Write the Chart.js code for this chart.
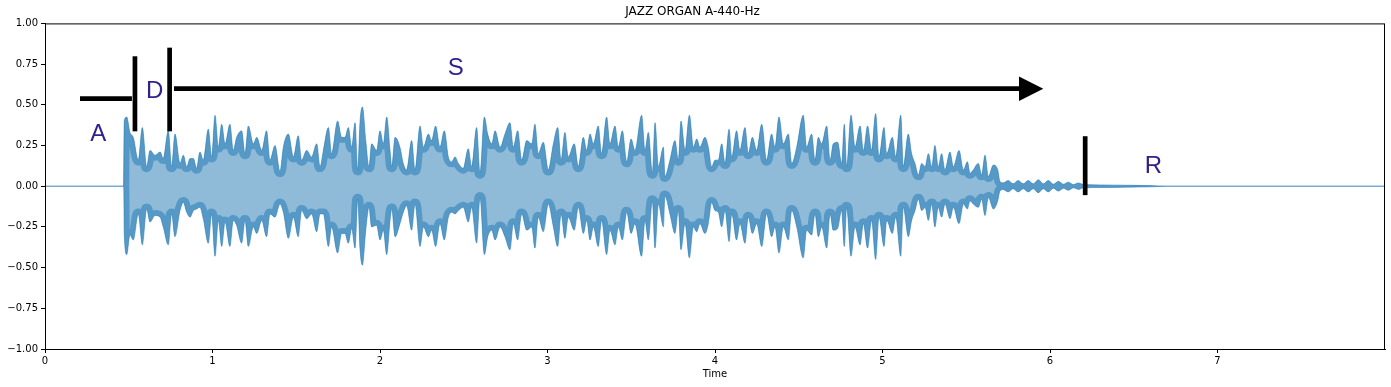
<!DOCTYPE html>
<html>
<head>
<meta charset="utf-8">
<title>JAZZ ORGAN A-440-Hz</title>
<script src="https://cdn.jsdelivr.net/npm/chart.js@4.4.1/dist/chart.umd.min.js"></script>
<style>
  html, body { margin: 0; padding: 0; background: #fff; }
  #wrap { width: 1391px; height: 387px; }
</style>
</head>
<body>
<div id="wrap"><canvas id="waveChart"></canvas></div>
<script>
// outer envelope of the waveform (seconds, amplitude)
const waveTimes = [
  0, 0.470, 0.473, 0.488, 0.507, 0.527, 0.557, 0.581, 0.607, 0.627, 0.657, 0.687, 0.706, 0.736, 0.756, 0.776,
  0.806, 0.826, 0.846, 0.866, 0.886, 0.905, 0.925, 0.945, 0.975, 0.995, 1.015, 1.035, 1.055, 1.075, 1.104, 1.124,
  1.144, 1.174, 1.194, 1.214, 1.244, 1.264, 1.294, 1.323, 1.343, 1.373, 1.403, 1.423, 1.453, 1.483, 1.512, 1.532,
  1.562, 1.592, 1.622, 1.642, 1.662, 1.692, 1.711, 1.747, 1.771,
  1.791, 1.811, 1.831, 1.851, 1.867, 1.881, 1.895, 1.915, 1.934, 1.950, 1.980, 2.000, 2.020, 2.040, 2.060, 2.070,
  2.090, 2.119, 2.139, 2.159, 2.189, 2.209, 2.239, 2.259, 2.289, 2.308, 2.332, 2.358, 2.384, 2.408, 2.428, 2.448,
  2.468, 2.497, 2.527, 2.547, 2.577, 2.597, 2.623, 2.643, 2.667, 2.687, 2.717, 2.746, 2.776, 2.796, 2.822, 2.846,
  2.876, 2.906, 2.925, 2.945, 2.975, 3.005, 3.035, 3.061, 3.081, 3.104, 3.124, 3.160, 3.184,
  3.214, 3.234, 3.254, 3.274, 3.303, 3.323, 3.353, 3.373, 3.403, 3.423, 3.447, 3.473, 3.499, 3.522, 3.562, 3.582,
  3.602, 3.626, 3.642, 3.662, 3.692, 3.701, 3.731, 3.761, 3.781, 3.797, 3.821, 3.847, 3.871, 3.891, 3.910, 3.940,
  3.960, 3.980, 4.000, 4.020, 4.040, 4.060, 4.084, 4.100, 4.129, 4.149, 4.179, 4.199, 4.223, 4.249, 4.279, 4.308,
  4.338, 4.358, 4.382, 4.408, 4.438, 4.458, 4.488, 4.527, 4.547,
  4.577, 4.597, 4.617, 4.637, 4.667, 4.687, 4.706, 4.732, 4.756, 4.772, 4.786, 4.812, 4.836, 4.866, 4.886, 4.911,
  4.935, 4.959, 4.979, 5.009, 5.025, 5.059, 5.079, 5.109, 5.124, 5.154, 5.174, 5.194, 5.214, 5.234, 5.254, 5.274,
  5.294, 5.313, 5.333, 5.353, 5.373, 5.403, 5.423, 5.457, 5.483, 5.507, 5.522, 5.542, 5.572, 5.592, 5.612, 5.632,
  5.662, 5.688, 5.701,
  5.72, 5.75, 5.78, 5.81, 5.84, 5.87, 5.90, 5.93, 5.96, 5.99, 6.02, 6.05, 6.08, 6.11, 6.14, 6.17, 6.20, 6.30, 6.45,
  6.60, 6.70, 8.00
];
const waveUpper = [
  0, 0, 0.40, 0.425, 0.33, 0.30, 0.16, 0.36, 0.12, 0.22, 0.19, 0.21, 0.17, 0.34, 0.12, 0.32,
  0.14, 0.19, 0.12, 0.17, 0.17, 0.11, 0.21, 0.16, 0.35, 0.18, 0.435, 0.24, 0.38, 0.26, 0.38, 0.22,
  0.30, 0.34, 0.20, 0.37, 0.26, 0.30, 0.22, 0.34, 0.16, 0.25, 0.09, 0.24, 0.32, 0.18, 0.31, 0.16,
  0.22, 0.18, 0.26, 0.12, 0.22, 0.36, 0.20, 0.40, 0.30,
  0.30, 0.36, 0.24, 0.39, 0.10, 0.40, 0.487, 0.28, 0.12, 0.26, 0.22, 0.34, 0.26, 0.425, 0.22, 0.12,
  0.30, 0.24, 0.14, 0.10, 0.28, 0.10, 0.37, 0.24, 0.32, 0.28, 0.37, 0.24, 0.34, 0.18, 0.15, 0.18,
  0.14, 0.11, 0.23, 0.12, 0.36, 0.08, 0.425, 0.32, 0.26, 0.34, 0.24, 0.32, 0.39, 0.24, 0.34, 0.16,
  0.28, 0.26, 0.38, 0.20, 0.27, 0.10, 0.26, 0.36, 0.16, 0.33, 0.18, 0.26, 0.12,
  0.30, 0.22, 0.32, 0.26, 0.37, 0.20, 0.425, 0.26, 0.37, 0.24, 0.34, 0.15, 0.29, 0.22, 0.436, 0.22,
  0.33, 0.08, 0.39, 0.12, 0.24, 0.06, 0.16, 0.28, 0.16, 0.40, 0.22, 0.436, 0.24, 0.29, 0.24, 0.30,
  0.24, 0.12, 0.16, 0.16, 0.26, 0.14, 0.35, 0.18, 0.34, 0.22, 0.36, 0.20, 0.30, 0.22, 0.38, 0.16,
  0.32, 0.24, 0.425, 0.26, 0.32, 0.14, 0.24, 0.436, 0.24,
  0.32, 0.16, 0.30, 0.26, 0.37, 0.16, 0.26, 0.27, 0.14, 0.38, 0.12, 0.436, 0.24, 0.37, 0.22, 0.37,
  0.22, 0.446, 0.18, 0.36, 0.20, 0.30, 0.18, 0.436, 0.12, 0.32, 0.20, 0.14, 0.07, 0.14, 0.12, 0.20,
  0.12, 0.25, 0.12, 0.20, 0.10, 0.21, 0.12, 0.22, 0.10, 0.15, 0.08, 0.10, 0.14, 0.07, 0.19, 0.06,
  0.13, 0.10, 0.03,
  0.02, 0.035, 0.015, 0.035, 0.015, 0.035, 0.015, 0.04, 0.015, 0.035, 0.012, 0.03, 0.012, 0.025, 0.01, 0.02, 0.01, 0.008, 0.006,
  0.004, 0, 0
];
const waveLower = [
  0, 0, -0.29, -0.42, -0.30, -0.33, -0.17, -0.36, -0.14, -0.22, -0.18, -0.19, -0.25, -0.36, -0.17, -0.31,
  -0.15, -0.10, -0.16, -0.19, -0.15, -0.14, -0.13, -0.20, -0.35, -0.17, -0.43, -0.21, -0.37, -0.22, -0.37, -0.21,
  -0.24, -0.35, -0.21, -0.37, -0.25, -0.29, -0.21, -0.31, -0.17, -0.19, -0.11, -0.16, -0.32, -0.19, -0.31, -0.15,
  -0.20, -0.17, -0.28, -0.17, -0.17, -0.37, -0.25, -0.41, -0.29,
  -0.29, -0.35, -0.26, -0.38, -0.08, -0.39, -0.485, -0.27, -0.13, -0.25, -0.24, -0.33, -0.27, -0.42, -0.21, -0.14,
  -0.31, -0.23, -0.16, -0.12, -0.27, -0.11, -0.37, -0.25, -0.31, -0.27, -0.37, -0.23, -0.33, -0.19, -0.16, -0.17,
  -0.15, -0.13, -0.22, -0.13, -0.35, -0.07, -0.42, -0.31, -0.27, -0.33, -0.25, -0.31, -0.39, -0.23, -0.33, -0.17,
  -0.27, -0.25, -0.38, -0.19, -0.28, -0.11, -0.25, -0.37, -0.17, -0.32, -0.19, -0.27, -0.13,
  -0.29, -0.21, -0.33, -0.25, -0.37, -0.21, -0.42, -0.27, -0.36, -0.25, -0.33, -0.16, -0.29, -0.23, -0.43, -0.21,
  -0.33, -0.09, -0.38, -0.11, -0.25, -0.06, -0.17, -0.29, -0.15, -0.39, -0.23, -0.44, -0.25, -0.28, -0.23, -0.29,
  -0.23, -0.10, -0.15, -0.16, -0.25, -0.15, -0.34, -0.17, -0.33, -0.23, -0.35, -0.19, -0.29, -0.23, -0.37, -0.17,
  -0.31, -0.25, -0.41, -0.25, -0.33, -0.15, -0.25, -0.44, -0.27,
  -0.30, -0.17, -0.31, -0.25, -0.38, -0.17, -0.27, -0.26, -0.15, -0.37, -0.13, -0.43, -0.25, -0.36, -0.23, -0.38,
  -0.21, -0.45, -0.19, -0.37, -0.21, -0.29, -0.19, -0.43, -0.13, -0.31, -0.21, -0.15, -0.08, -0.15, -0.13, -0.21,
  -0.11, -0.25, -0.13, -0.19, -0.11, -0.20, -0.13, -0.23, -0.11, -0.14, -0.09, -0.11, -0.13, -0.08, -0.18, -0.07,
  -0.14, -0.09, -0.03,
  -0.02, -0.035, -0.015, -0.035, -0.015, -0.035, -0.015, -0.04, -0.015, -0.035, -0.012, -0.03, -0.012, -0.025, -0.01, -0.02, -0.01, -0.008, -0.006,
  -0.004, 0, 0
];

const xTicks = [0, 1, 2, 3, 4, 5, 6, 7];
const yTicks = [-1, -0.75, -0.5, -0.25, 0, 0.25, 0.5, 0.75, 1];

// ADSR markers, in data units
const phaseLabels = [
  { text: "A", x: 0.318, y: 0.327 },
  { text: "D", x: 0.655, y: 0.589 },
  { text: "S", x: 2.452, y: 0.732 },
  { text: "R", x: 6.617, y: 0.127 }
];
const phaseBars = [
  { x0: 0.209, y0: 0.538, x1: 0.519, y1: 0.538 },
  { x0: 0.537, y0: 0.798, x1: 0.537, y1: 0.337 },
  { x0: 0.744, y0: 0.851, x1: 0.744, y1: 0.337 },
  { x0: 6.210, y0: 0.307, x1: 6.210, y1: -0.055 }
];
const sustainArrow = { x0: 0.77, x1: 5.815, tip: 5.96, y: 0.599, half: 0.0755 };

const lightBlue = "rgba(31, 119, 180, 0.5)";
const pts = (ts, vs) => ts.map((t, i) => ({ x: t, y: vs[i] }));

// darker rim just inside the waveform outline (dense oscillation look)
const rimPlugin = {
  id: "rim",
  afterDatasetsDraw(chart) {
    const { ctx, chartArea: a } = chart;
    const upLine = chart.getDatasetMeta(0).dataset;
    const loLine = chart.getDatasetMeta(1).dataset;
    ctx.save();
    // keep below the upper outline
    ctx.beginPath();
    upLine.path(ctx);
    ctx.lineTo(a.right, a.bottom + 50);
    ctx.lineTo(a.left, a.bottom + 50);
    ctx.closePath();
    ctx.clip();
    // and above the lower outline
    ctx.beginPath();
    loLine.path(ctx);
    ctx.lineTo(a.right, a.top - 50);
    ctx.lineTo(a.left, a.top - 50);
    ctx.closePath();
    ctx.clip();
    ctx.beginPath();
    upLine.path(ctx);
    loLine.path(ctx);
    ctx.strokeStyle = lightBlue;
    ctx.lineWidth = 11;
    ctx.lineJoin = "bevel";
    ctx.stroke();
    ctx.restore();
  }
};

// draws the black ADSR lines, arrow and letters
const adsrPlugin = {
  id: "adsr",
  afterDatasetsDraw(chart) {
    const { ctx, scales: { x, y } } = chart;
    ctx.save();
    ctx.strokeStyle = "#000";
    ctx.lineWidth = 4.7;
    ctx.lineCap = "butt";
    phaseBars.forEach(b => {
      ctx.beginPath();
      ctx.moveTo(x.getPixelForValue(b.x0), y.getPixelForValue(b.y0));
      ctx.lineTo(x.getPixelForValue(b.x1), y.getPixelForValue(b.y1));
      ctx.stroke();
    });
    const ay = y.getPixelForValue(sustainArrow.y);
    ctx.beginPath();
    ctx.moveTo(x.getPixelForValue(sustainArrow.x0), ay);
    ctx.lineTo(x.getPixelForValue(sustainArrow.x1), ay);
    ctx.stroke();
    const hh = y.getPixelForValue(0) - y.getPixelForValue(sustainArrow.half);
    ctx.fillStyle = "#000";
    ctx.beginPath();
    ctx.moveTo(x.getPixelForValue(sustainArrow.x1), ay - hh);
    ctx.lineTo(x.getPixelForValue(sustainArrow.tip), ay);
    ctx.lineTo(x.getPixelForValue(sustainArrow.x1), ay + hh);
    ctx.closePath();
    ctx.fill();

    ctx.fillStyle = "#33208c";
    ctx.font = '24px "Liberation Sans", Arial, sans-serif';
    ctx.textAlign = "center";
    ctx.textBaseline = "middle";
    phaseLabels.forEach(l => {
      ctx.fillText(l.text, x.getPixelForValue(l.x), y.getPixelForValue(l.y) + 1);
    });

    // full frame around the axes
    const a = chart.chartArea;
    ctx.strokeStyle = "#000";
    ctx.lineWidth = 1;
    ctx.strokeRect(a.left + 0.5, a.top + 0.5, a.right - a.left - 1, a.bottom - a.top);
    ctx.restore();
  }
};

const tickFont = { family: '"DejaVu Sans", sans-serif', size: 10 };

new Chart(document.getElementById("waveChart"), {
  type: "line",
  data: {
    datasets: [
      { data: pts(waveTimes, waveUpper), borderColor: lightBlue, borderWidth: 1, backgroundColor: lightBlue, fill: 1 },
      { data: pts(waveTimes, waveLower), borderColor: lightBlue, borderWidth: 1, fill: false }
    ]
  },
  options: {
    responsive: true,
    maintainAspectRatio: false,
    animation: false,
    events: [],
    elements: { point: { radius: 0 }, line: { cubicInterpolationMode: "monotone" } },
    layout: { padding: { right: 6, top: 0 } },
    plugins: {
      legend: { display: false },
      tooltip: { enabled: false },
      title: {
        display: true,
        text: "JAZZ ORGAN A-440-Hz",
        color: "#000",
        font: { family: '"DejaVu Sans", sans-serif', size: 12, weight: "normal" },
        padding: { top: 5, bottom: 4 }
      }
    },
    scales: {
      x: {
        type: "linear",
        min: 0,
        max: 8,
        afterBuildTicks: s => { s.ticks = xTicks.map(v => ({ value: v })); },
        afterFit: s => { s.height = 38; },
        ticks: { color: "#000", font: tickFont, padding: 2, maxRotation: 0, callback: v => String(v) },
        grid: { drawOnChartArea: false, drawTicks: true, tickLength: 4, tickColor: "#000" },
        border: { display: true, color: "#000" },
        title: { display: true, text: "Time", color: "#000", font: tickFont, padding: { top: 4, bottom: 7 } }
      },
      y: {
        min: -1,
        max: 1,
        afterBuildTicks: s => { s.ticks = yTicks.map(v => ({ value: v })); },
        afterFit: s => { s.width = 45; },
        ticks: {
          color: "#000", font: tickFont, padding: 3,
          callback: v => (v < 0 ? "\u2212" + Math.abs(v).toFixed(2) : v.toFixed(2))
        },
        grid: { drawOnChartArea: false, drawTicks: true, tickLength: 4, tickColor: "#000" },
        border: { display: true, color: "#000" }
      }
    }
  },
  plugins: [rimPlugin, adsrPlugin]
});
</script>
</body>
</html>
